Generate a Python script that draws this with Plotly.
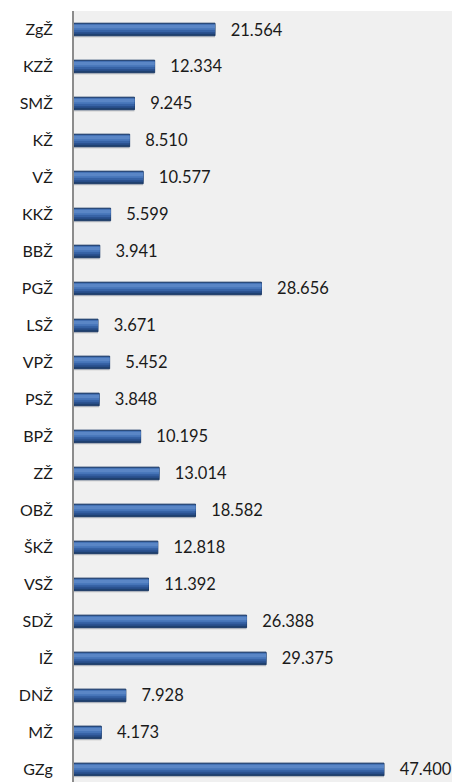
import plotly.graph_objects as go

# %%
# Data (top to bottom as in the chart)
regions = ["ZgŽ", "KZŽ", "SMŽ", "KŽ", "VŽ", "KKŽ", "BBŽ", "PGŽ", "LSŽ", "VPŽ", "PSŽ",
           "BPŽ", "ZŽ", "OBŽ", "ŠKŽ", "VSŽ", "SDŽ", "IŽ", "DNŽ", "MŽ", "GZg"]
values = [21564, 12334, 9245, 8510, 10577, 5599, 3941, 28656, 3671, 5452, 3848,
          10195, 13014, 18582, 12818, 11392, 26388, 29375, 7928, 4173, 47400]

font = "Lato, Open Sans, sans-serif"

fig = go.Figure()

# soft shadow under the bars
fig.add_trace(go.Bar(
    x=values, y=regions, orientation="h",
    width=0.36, offset=-0.14,
    marker=dict(color="rgba(0,0,0,0.10)", line=dict(width=0)),
    hoverinfo="skip", showlegend=False,
))
# main bar (dark edge) carrying the labels
fig.add_trace(go.Bar(
    x=values, y=regions, orientation="h",
    width=0.34, offset=-0.17,
    marker=dict(color="#1f4170", line=dict(color="#1c3a66", width=1)),
    texttemplate="   %{x:,}", textposition="outside", constraintext="none",
    textfont=dict(family=font, size=16.5, color="#1a1a1a"),
    cliponaxis=False, showlegend=False,
))
# shading layers, lighter towards the top edge
shades = [(0.27, -0.155, "#2b5290"), (0.21, -0.145, "#3763a6"),
          (0.15, -0.135, "#4674b8"), (0.09, -0.125, "#5a86c6")]
for w, off, col in shades:
    fig.add_trace(go.Bar(
        x=values, y=regions, orientation="h",
        width=w, offset=off,
        marker=dict(color=col, line=dict(width=0)),
        hoverinfo="skip", showlegend=False,
    ))

fig.update_layout(
    width=452, height=782,
    margin=dict(l=74, r=0, t=11, b=0),
    barmode="overlay",
    separators=",.",
    paper_bgcolor="white",
    plot_bgcolor="#f0f0f0",
    font=dict(family=font, size=16, color="#1a1a1a"),
)
fig.update_xaxes(range=[0, 57800], visible=False, showgrid=False)
fig.update_yaxes(
    range=[20.34, -0.5], showgrid=False,
    showline=True, linecolor="#8c8c8c", linewidth=2,
    ticks="", ticklabelstandoff=16,
    tickfont=dict(family=font, size=16, color="#1a1a1a"),
)

# drop the default body margin so the figure fills the window
fig.write_html(
    "out.html",
    config={"displayModeBar": False},
    post_script="document.body.style.margin='0';document.body.style.overflow='hidden';",
)
